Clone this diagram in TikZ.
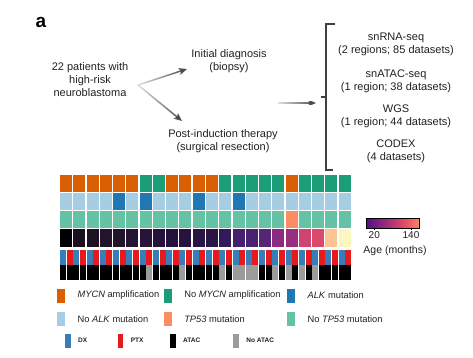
\documentclass[tikz,border=0pt]{standalone}
\usepackage{fontspec}
\setmainfont{Liberation Sans}
\usepackage{xcolor}
\usetikzlibrary{arrows.meta, positioning, calc, fadings}

\definecolor{ink}{HTML}{231F20}
\definecolor{mycAmp}{HTML}{D95F02}
\definecolor{mycNo}{HTML}{1B9E77}
\definecolor{alkMut}{HTML}{1F78B4}
\definecolor{alkNo}{HTML}{A6CEE3}
\definecolor{tpMut}{HTML}{FC8D62}
\definecolor{tpNo}{HTML}{66C2A5}
\definecolor{dxBlue}{HTML}{377EB8}
\definecolor{ptxRed}{HTML}{E41A1C}
\definecolor{noAtac}{HTML}{9B9B9B}
\definecolor{mg0}{HTML}{000004}
\definecolor{mg1}{HTML}{1C1044}
\definecolor{mg2}{HTML}{4F127B}
\definecolor{mg3}{HTML}{812581}
\definecolor{mg4}{HTML}{B5367A}
\definecolor{mg5}{HTML}{E55064}
\definecolor{mg6}{HTML}{FB8761}
\definecolor{mg7}{HTML}{FEC287}
\definecolor{mg8}{HTML}{FCFDBF}

\tikzfading[name=tailfade, left color=transparent!85, right color=transparent!0]
\pgfdeclarehorizontalshading{magma}{100bp}{color(0bp)=(mg0); color(12.5bp)=(mg1);
  color(25bp)=(mg2); color(37.5bp)=(mg3); color(50bp)=(mg4); color(62.5bp)=(mg5);
  color(75bp)=(mg6); color(87.5bp)=(mg7); color(100bp)=(mg8)}

\begin{document}
\begin{tikzpicture}[
    x=1pt, y=-1pt,
    font=\fontsize{11}{13}\selectfont,
    txt/.style={align=center, text=ink, inner sep=1pt},
    flow/.style={-{Stealth[length=8pt, width=7pt, inset=1.5pt]}, line width=1.5pt,
        draw=black!72, path fading=tailfade},
    keybox/.style={minimum width=8pt, minimum height=14pt, inner sep=0pt},
    keytext/.style={font=\fontsize{9.3}{11}\selectfont, text=ink, inner sep=0pt, anchor=west},
    tinybox/.style={minimum width=5.7pt, minimum height=14pt, inner sep=0pt},
    tinytext/.style={font=\fontsize{6.5}{8}\selectfont\bfseries, text=ink, inner sep=0pt, anchor=west}
]
    \useasboundingbox (0,0) rectangle (473,358);

    \node[font=\fontsize{19}{20}\selectfont\bfseries, inner sep=0pt] (panel) at (41,22) {a};

    % cohort and sampling
    \node[txt] (patients) at (90,80) {22 patients with\\high-risk\\neuroblastoma};
    \node[txt] (diag) at (229,61.5) {Initial diagnosis\\(biopsy)};
    \node[txt] (post) at (223,141.5) {Post-induction therapy\\(surgical resection)};

    \node[txt] (rna) at (396,44.5) {snRNA-seq\\(2 regions; 85 datasets)};
    \node[txt] (atac) at (396,81.5) {snATAC-seq\\(1 region; 38 datasets)};
    \node[txt] (wgs) at (396,116.5) {WGS\\(1 region; 44 datasets)};
    \node[txt] (codex) at (396,151.5) {CODEX\\(4 datasets)};

    \coordinate (fork) at (138,85);
    \coordinate (diagIn) at (187,69);
    \coordinate (postIn) at (182,121);
    \coordinate (join) at (278,103);
    \coordinate (bracketIn) at (316,103);

    \draw[flow] (fork) -- (diagIn);
    \draw[flow] (fork) -- (postIn);
    \draw[flow] (join) -- (bracketIn);

    % bracket
    \draw[black!75, line width=1.2pt] (335,24) -- (326,24) -- (326,170) -- (333,170);
    \draw[black!75, line width=1.2pt] (326,97) -- (320.5,97);

    % patient rows
    \foreach \c [count=\i from 0] in {mycAmp,mycAmp,mycAmp,mycAmp,mycAmp,mycAmp,mycNo,mycNo,
        mycAmp,mycAmp,mycAmp,mycAmp,mycNo,mycNo,mycNo,mycNo,mycNo,mycAmp,mycNo,mycNo,mycNo,mycNo}
        \fill[\c] ({60+\i*13.27},174.7) rectangle ++(12,17.2);
    \foreach \c [count=\i from 0] in {alkNo,alkNo,alkNo,alkNo,alkMut,alkNo,alkMut,alkNo,alkNo,
        alkNo,alkMut,alkNo,alkNo,alkMut,alkNo,alkNo,alkNo,alkNo,alkNo,alkNo,alkNo,alkNo}
        \fill[\c] ({60+\i*13.27},192.9) rectangle ++(12,17.2);
    \foreach \i in {0,...,21}
        \fill[tpNo] ({60+\i*13.27},211.1) rectangle ++(12,17.2);
    \fill[tpMut] ({60+17*13.27},211.1) rectangle ++(12,17.2);
    \foreach \ra/\ga/\ba [count=\i from 0] in {0/0/4, 26/16/32, 28/18/34, 33/20/43, 33/19/43,
        35/20/52, 38/20/59, 36/18/58, 37/18/60, 40/18/63, 42/20/68, 43/21/69, 48/26/90,
        69/32/110, 74/34/114, 85/38/120, 138/42/128, 151/46/128, 208/67/111, 219/74/107,
        253/197/143, 251/246/194}
        \fill[fill={rgb,255:red,\ra;green,\ga;blue,\ba}] ({60+\i*13.27},229.3) rectangle ++(12,17.2);

    % datasets: timepoint and ATAC
    \foreach \n in {0,...,43} {
        \ifodd\n \def\tc{ptxRed}\else \def\tc{dxBlue}\fi
        \fill[\tc] ({60+\n*6.636},249.7) rectangle ++(6,15);
        \fill[black] ({60+\n*6.636},264.7) rectangle ++(6,15.6);
    }
    \foreach \n in {13,18,24,26,27,28,29,32,34,36,38}
        \fill[noAtac] ({60+\n*6.636},264.7) rectangle ++(6,15.6);

    % age colour bar
    \node[draw=black, line width=0.6pt, shading=magma, minimum width=53.3pt,
        minimum height=10pt, inner sep=0pt] (ageBar) at (392.65,223.3) {};
    \draw[line width=0.5pt] (374.3,228.3) -- ++(0,2);
    \draw[line width=0.5pt] (411,228.3) -- ++(0,2);
    \node[txt, font=\fontsize{10}{12}\selectfont] (age20) at (374.3,235.5) {20};
    \node[txt, font=\fontsize{10}{12}\selectfont] (age140) at (411,235.5) {140};
    \node[txt, font=\fontsize{10.5}{12}\selectfont] (ageTitle) at (395,250.5) {Age (months)};

    % legend
    \node[keybox, fill=mycAmp] (kMycAmp) at (61.2,295.5) {};
    \node[keytext, right=12pt of kMycAmp] (tMycAmp) {\textit{MYCN} amplification};
    \node[keybox, fill=mycNo] (kMycNo) at (167.9,295.5) {};
    \node[keytext, right=12pt of kMycNo] (tMycNo) {No \textit{MYCN} amplification};
    \node[keybox, fill=alkMut] (kAlkMut) at (291.2,295.5) {};
    \node[keytext, right=12pt of kAlkMut] (tAlkMut) {\textit{ALK} mutation};

    \node[keybox, fill=alkNo] (kAlkNo) at (61.2,318.9) {};
    \node[keytext, right=12pt of kAlkNo] (tAlkNo) {No \textit{ALK} mutation};
    \node[keybox, fill=tpMut] (kTpMut) at (167.9,318.9) {};
    \node[keytext, right=12pt of kTpMut] (tTpMut) {\textit{TP53} mutation};
    \node[keybox, fill=tpNo] (kTpNo) at (291.2,318.9) {};
    \node[keytext, right=12pt of kTpNo] (tTpNo) {No \textit{TP53} mutation};

    \node[tinybox, fill=dxBlue] (kDx) at (67.9,340.5) {};
    \node[tinytext, right=7pt of kDx] (tDx) {DX};
    \node[tinybox, fill=ptxRed] (kPtx) at (120.5,340.5) {};
    \node[tinytext, right=7pt of kPtx] (tPtx) {PTX};
    \node[tinybox, fill=black] (kAtac) at (172.9,340.5) {};
    \node[tinytext, right=7pt of kAtac] (tAtac) {ATAC};
    \node[tinybox, fill=noAtac] (kNoAtac) at (236.2,340.5) {};
    \node[tinytext, right=7pt of kNoAtac] (tNoAtac) {No ATAC};

\end{tikzpicture}
\end{document}
